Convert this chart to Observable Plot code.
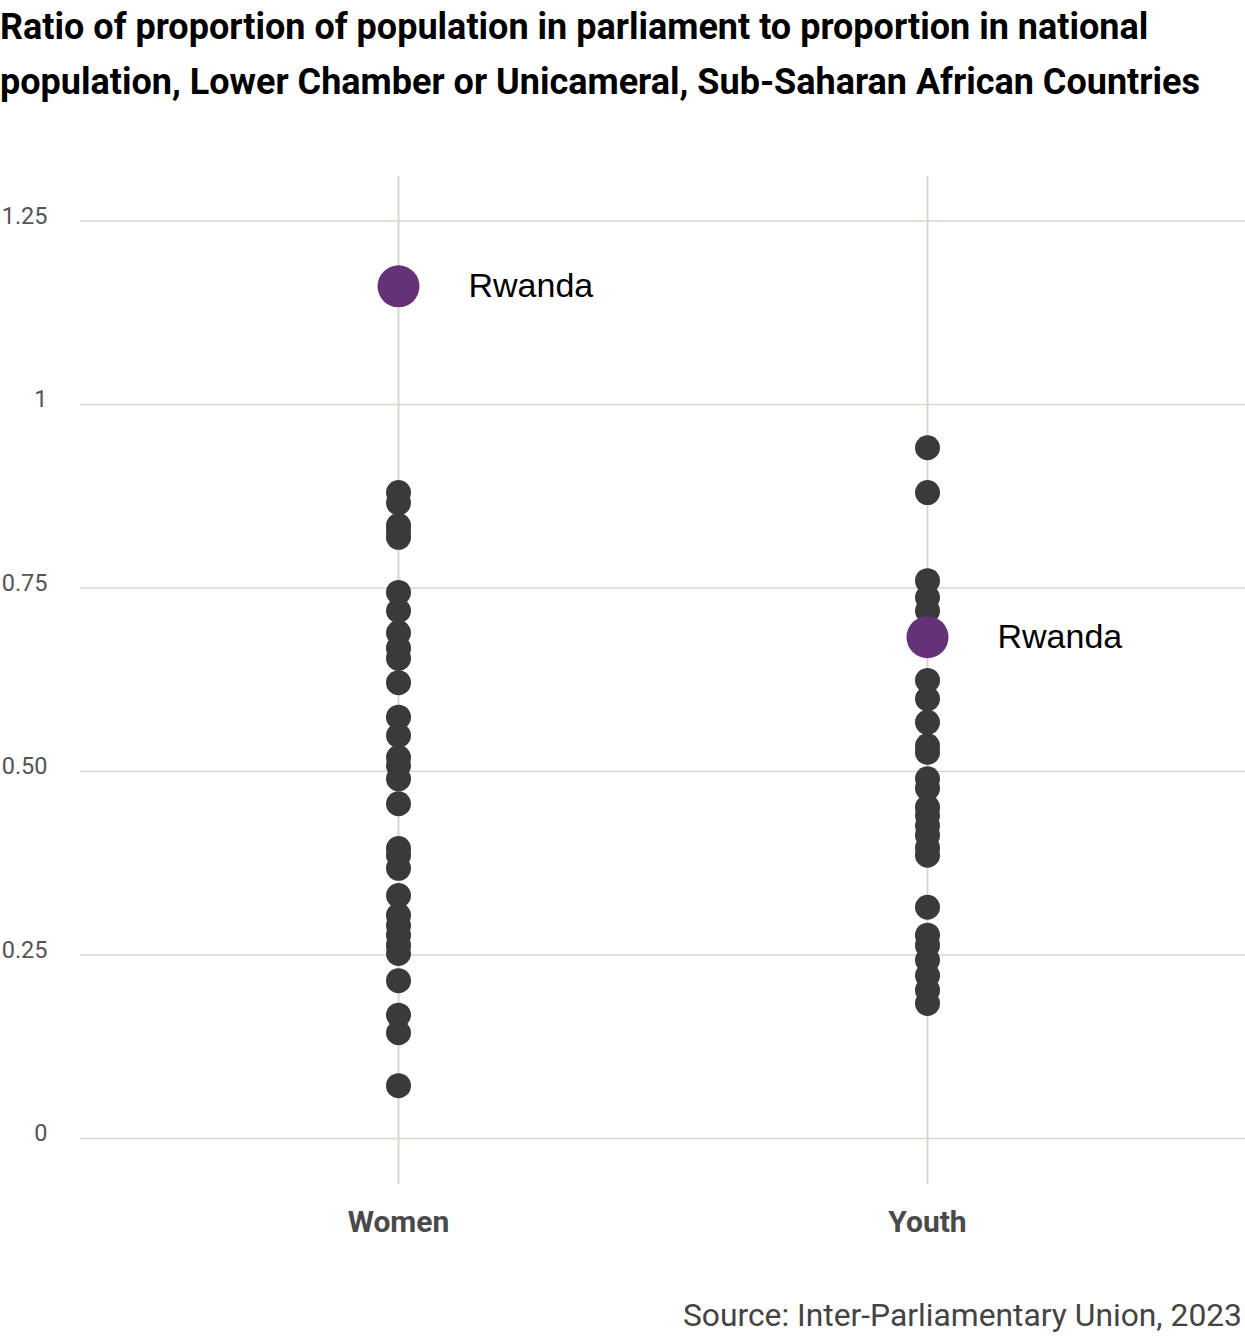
<!DOCTYPE html>
<html>
<head>
<meta charset="utf-8">
<script src="https://cdn.jsdelivr.net/npm/d3@7"></script>
<script src="https://cdn.jsdelivr.net/npm/@observablehq/plot@0.6"></script>
<style>
  html, body { margin: 0; padding: 0; background: #fff; }
  body { width: 1245px; font-family: Roboto, "Noto Sans", sans-serif; }
  #title { font-weight: 700; font-size: 36px; line-height: 55px; color: #000; margin: 0; padding: 0; height: 110px; white-space: nowrap; }
  #source { font-size: 31.8px; color: #444; text-align: right; line-height: 40px; margin-top: 25px; padding-right: 3px; }
  #chart svg { display: block; }
</style>
</head>
<body>
<div id="title">Ratio of proportion of population in parliament to proportion in national<br>population, Lower Chamber or Unicameral, Sub-Saharan African Countries</div>
<div id="chart"></div>
<div id="source">Source: Inter-Parliamentary Union, 2023</div>
<script>
const categories = ["Women", "Youth"];
const womenValues = [0.880, 0.866, 0.835, 0.828, 0.819, 0.744, 0.719, 0.689, 0.668, 0.654, 0.621, 0.574, 0.549, 0.519, 0.508, 0.490, 0.456, 0.395, 0.386, 0.368, 0.331, 0.304, 0.290, 0.277, 0.263, 0.252, 0.215, 0.168, 0.144, 0.072];
const youthValues = [0.941, 0.880, 0.760, 0.737, 0.719, 0.624, 0.599, 0.567, 0.535, 0.526, 0.490, 0.477, 0.451, 0.440, 0.426, 0.413, 0.396, 0.386, 0.315, 0.277, 0.263, 0.243, 0.222, 0.202, 0.184];
const highlightCountry = "Rwanda";
const highlightCategories = ["Women", "Youth"];
const highlightValues = [1.161, 0.683];
const tickValues = [0, 0.25, 0.5, 0.75, 1, 1.25];
const tickLabels = ["0", "0.25", "0.50", "0.75", "1", "1.25"];

const dots = [
  ...womenValues.map(v => ({category: "Women", value: v})),
  ...youthValues.map(v => ({category: "Youth", value: v}))
];
const highlight = highlightCategories.map((c, i) => ({category: c, value: highlightValues[i], label: highlightCountry}));

const grid = "#d9d7cc";
const chart = Plot.plot({
  width: 1245,
  height: 1160,
  marginTop: 66,
  marginBottom: 86,
  marginLeft: 80,
  marginRight: 0,
  style: {fontFamily: "Roboto, sans-serif", background: "#fff"},
  x: {type: "point", domain: categories, padding: 0.6, label: null},
  y: {domain: [-0.0627, 1.3106], label: null},
  marks: [
    Plot.ruleY(tickValues, {stroke: grid, strokeWidth: 1.5}),
    Plot.ruleX(categories, {x: d => d, stroke: grid, strokeWidth: 2}),
    Plot.axisY(tickValues, {
      tickSize: 0, tickPadding: 33, fontSize: 23.5, fill: "#555",
      dy: -5, tickFormat: (d, i) => tickLabels[tickValues.indexOf(d)], label: null
    }),
    Plot.axisX({
      tickSize: 0, tickPadding: 26, fontSize: 30, fontWeight: 700, fill: "#4a4a4a", label: null
    }),
    Plot.dot(dots, {x: "category", y: "value", r: 12.5, fill: "#3a3a3a", stroke: "none"}),
    Plot.dot(highlight, {x: "category", y: "value", r: 21, fill: "#653177", stroke: "none"}),
    Plot.text(highlight, {
      x: "category", y: "value", text: "label", dx: 70, textAnchor: "start",
      fontSize: 34, fill: "#000", fontFamily: "'Liberation Sans', Arial, sans-serif"
    })
  ]
});
document.getElementById("chart").appendChild(chart);
</script>
</body>
</html>
